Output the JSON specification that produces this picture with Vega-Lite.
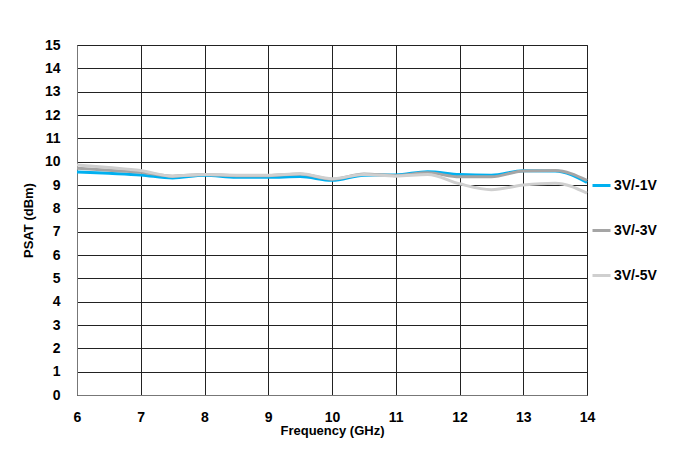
{
  "$schema": "https://vega.github.io/schema/vega-lite/v6.json",
  "autosize": "none",
  "width": 510,
  "height": 350,
  "padding": {"left": 77, "top": 45, "right": 86, "bottom": 60},
  "background": "white",
  "config": {
    "font": "Liberation Sans",
    "view": {"stroke": "#333", "strokeWidth": 1}
  },
  "data": {
    "values": [
      {"f": 6, "s": "3V/-1V", "p": 9.56}, {"f": 6.5, "s": "3V/-1V", "p": 9.5}, {"f": 7, "s": "3V/-1V", "p": 9.43}, {"f": 7.5, "s": "3V/-1V", "p": 9.3}, {"f": 8, "s": "3V/-1V", "p": 9.42}, {"f": 8.5, "s": "3V/-1V", "p": 9.33}, {"f": 9, "s": "3V/-1V", "p": 9.33}, {"f": 9.5, "s": "3V/-1V", "p": 9.36}, {"f": 10, "s": "3V/-1V", "p": 9.2}, {"f": 10.5, "s": "3V/-1V", "p": 9.42}, {"f": 11, "s": "3V/-1V", "p": 9.43}, {"f": 11.5, "s": "3V/-1V", "p": 9.57}, {"f": 12, "s": "3V/-1V", "p": 9.45}, {"f": 12.5, "s": "3V/-1V", "p": 9.42}, {"f": 13, "s": "3V/-1V", "p": 9.61}, {"f": 13.5, "s": "3V/-1V", "p": 9.6}, {"f": 14, "s": "3V/-1V", "p": 9.11},
      {"f": 6, "s": "3V/-3V", "p": 9.72}, {"f": 6.5, "s": "3V/-3V", "p": 9.63}, {"f": 7, "s": "3V/-3V", "p": 9.55}, {"f": 7.5, "s": "3V/-3V", "p": 9.38}, {"f": 8, "s": "3V/-3V", "p": 9.45}, {"f": 8.5, "s": "3V/-3V", "p": 9.4}, {"f": 9, "s": "3V/-3V", "p": 9.4}, {"f": 9.5, "s": "3V/-3V", "p": 9.47}, {"f": 10, "s": "3V/-3V", "p": 9.25}, {"f": 10.5, "s": "3V/-3V", "p": 9.47}, {"f": 11, "s": "3V/-3V", "p": 9.4}, {"f": 11.5, "s": "3V/-3V", "p": 9.52}, {"f": 12, "s": "3V/-3V", "p": 9.35}, {"f": 12.5, "s": "3V/-3V", "p": 9.35}, {"f": 13, "s": "3V/-3V", "p": 9.6}, {"f": 13.5, "s": "3V/-3V", "p": 9.62}, {"f": 14, "s": "3V/-3V", "p": 9.2},
      {"f": 6, "s": "3V/-5V", "p": 9.86}, {"f": 6.5, "s": "3V/-5V", "p": 9.75}, {"f": 7, "s": "3V/-5V", "p": 9.62}, {"f": 7.5, "s": "3V/-5V", "p": 9.38}, {"f": 8, "s": "3V/-5V", "p": 9.45}, {"f": 8.5, "s": "3V/-5V", "p": 9.42}, {"f": 9, "s": "3V/-5V", "p": 9.42}, {"f": 9.5, "s": "3V/-5V", "p": 9.48}, {"f": 10, "s": "3V/-5V", "p": 9.27}, {"f": 10.5, "s": "3V/-5V", "p": 9.45}, {"f": 11, "s": "3V/-5V", "p": 9.38}, {"f": 11.5, "s": "3V/-5V", "p": 9.45}, {"f": 12, "s": "3V/-5V", "p": 9.05}, {"f": 12.5, "s": "3V/-5V", "p": 8.8}, {"f": 13, "s": "3V/-5V", "p": 9.0}, {"f": 13.5, "s": "3V/-5V", "p": 9.08}, {"f": 14, "s": "3V/-5V", "p": 8.65}
    ]
  },
  "mark": {"type": "line", "interpolate": "monotone", "strokeWidth": 3},
  "encoding": {
    "x": {
      "field": "f", "type": "quantitative",
      "scale": {"domain": [6, 14], "nice": false, "zero": false},
      "axis": {
        "title": "Frequency (GHz)", "values": [6, 7, 8, 9, 10, 11, 12, 13, 14],
        "grid": true, "gridColor": "#222", "gridOpacity": 1, "gridWidth": 1,
        "domainColor": "#777", "ticks": false,
        "labelFont": "Liberation Sans", "labelFontWeight": "bold", "labelFontSize": 14, "labelColor": "#000",
        "labelPadding": 15, "labelFlush": false,
        "titleFont": "Liberation Sans", "titleFontWeight": "bold", "titleFontSize": 13, "titleColor": "#000",
        "titlePadding": 0
      }
    },
    "y": {
      "field": "p", "type": "quantitative",
      "scale": {"domain": [0, 15], "nice": false},
      "axis": {
        "title": "PSAT (dBm)", "values": [0, 1, 2, 3, 4, 5, 6, 7, 8, 9, 10, 11, 12, 13, 14, 15],
        "grid": true, "gridColor": "#222", "gridOpacity": 1, "gridWidth": 1,
        "domainColor": "#777", "ticks": false,
        "labelFont": "Liberation Sans", "labelFontWeight": "bold", "labelFontSize": 14, "labelColor": "#000",
        "labelPadding": 17, "labelFlush": false,
        "titleFont": "Liberation Sans", "titleFontWeight": "bold", "titleFontSize": 13, "titleColor": "#000",
        "titlePadding": 9
      }
    },
    "color": {
      "field": "s", "type": "nominal",
      "scale": {"domain": ["3V/-1V", "3V/-3V", "3V/-5V"], "range": ["#00B0F0", "#A5A5A5", "#CFCFCF"]},
      "legend": {
        "title": null, "orient": "none", "legendX": 514, "legendY": 130,
        "padding": 0, "symbolType": "stroke", "symbolSize": 324, "symbolStrokeWidth": 3,
        "labelFont": "Liberation Sans", "labelFontWeight": "bold", "labelFontSize": 14, "labelColor": "#000",
        "labelOffset": 2, "rowPadding": 27
      }
    }
  }
}
